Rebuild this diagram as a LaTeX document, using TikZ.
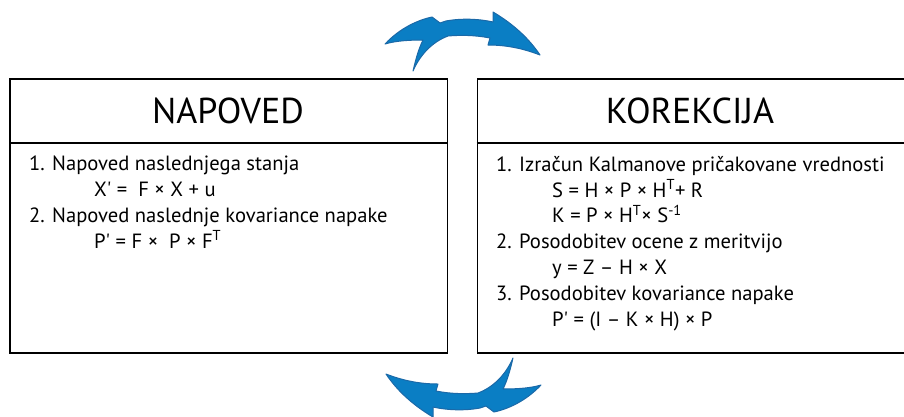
\documentclass[tikz,border=0pt]{standalone}
\usepackage{fontspec}
\setmainfont{PT Sans}
\usepackage{xcolor}
\usepackage{tikz}
\usetikzlibrary{positioning}
\definecolor{swooshblue}{HTML}{0A7EC4}
\definecolor{swooshedge}{HTML}{1B69A8}
\newcommand{\swooshpath}{%
  (385,44) .. controls (400,28) and (418,20) .. (432,17)
  -- (440,23) -- (446,21)
  .. controls (462,18) and (480,19) .. (493,22)
  -- (493,12)
  .. controls (515,25) and (530,40) .. (540,55)
  .. controls (522,48) and (505,45) .. (488,45)
  -- (490,38)
  .. controls (475,35) and (460,35) .. (448,36)
  .. controls (432,42) and (420,55) .. (413,71)
  .. controls (416,58) and (419,48) .. (423,40)
  .. controls (408,40) and (395,41) .. (385,44) -- cycle}
\newcommand{\pr}{\textquotesingle}

\begin{document}
\begin{tikzpicture}[
  x=1pt,
  y=-1pt,
  panel/.style={draw=black, line width=1.6pt, inner sep=0pt},
  headline/.style={font=\fontsize{36}{40}\selectfont},
  steps/.style={font=\fontsize{20.6}{25.8}\selectfont, align=left, anchor=north west, inner sep=0pt},
  swoosh/.style={fill=swooshblue, draw=swooshedge, line width=1pt, line join=round}
]
\clip (0,0) rectangle (904,416);

% levi okvir
\node[panel, minimum width=437.7pt, minimum height=274pt, anchor=north west] (napoved) at (9,78.3) {};
\draw[line width=1.6pt] (napoved.north west |- 0,142.7) -- (napoved.north east |- 0,142.7);
\node[headline] (napovedtitle) at (228,111) {NAPOVED};
\node[steps] (napovedtext) at (29,156) {%
  1. Napoved naslednjega stanja\\
  \hspace{65pt}X\pr{} = \ F × X + u\\
  2. Napoved naslednje kovariance napake\\
  \hspace{65pt}P\pr{} = F × \ P × F\textsuperscript{T}};

% desni okvir
\node[panel, minimum width=432pt, minimum height=274pt, anchor=north west] (korekcija) at (476.7,78.3) {};
\draw[line width=1.6pt] (korekcija.north west |- 0,142.7) -- (korekcija.north east |- 0,142.7);
\node[headline] (korekcijatitle) at (690,111) {KOREKCIJA};
\node[steps] (korekcijatext) at (496,156) {%
  1. Izračun Kalmanove pričakovane vrednosti\\
  \hspace{56pt}S = H × P × H\textsuperscript{T}+ R\\
  \hspace{56pt}K = P × H\textsuperscript{T}× S\textsuperscript{-1}\\
  2. Posodobitev ocene z meritvijo\\
  \hspace{56pt}y = Z – H × X\\
  3. Posodobitev kovariance napake\\
  \hspace{56pt}P\pr{} = (I – K × H) × P};

% puscici
\draw[swoosh] \swooshpath;
\begin{scope}[rotate around={180:(463,214.5)}]
  \draw[swoosh] \swooshpath;
\end{scope}
\end{tikzpicture}
\end{document}
